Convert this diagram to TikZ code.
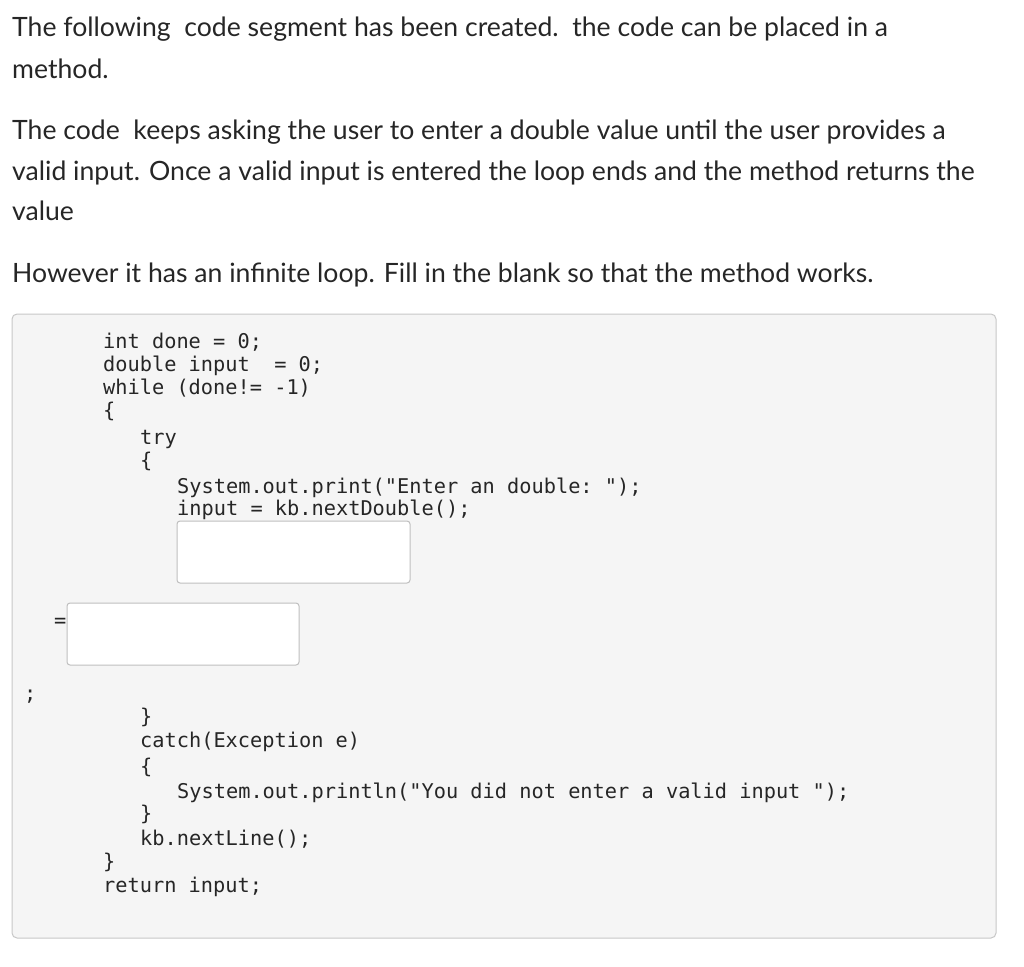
\documentclass[tikz,border=0pt]{standalone}
\usepackage{fontspec}
\setmainfont{Lato}
\setmonofont{DejaVu Sans Mono}
\begin{document}
\begin{tikzpicture}[x=1pt,y=-1pt,
 txt/.style={anchor=base west,inner sep=0pt,font=\fontsize{26.6}{30}\selectfont,text=black!85},
 code/.style={anchor=base west,inner sep=0pt,font=\ttfamily\fontsize{20.3}{23}\selectfont,text=black!85},
 blank/.style={draw=black!25,fill=white,rounded corners=3pt,line width=1pt}]
\useasboundingbox (0,0) rectangle (1024,966);
\node[txt] (t1) at (12,37) {The following\ \ code segment has been created.\ \ the code can be placed in a};
\node[txt] (t2) at (12,78) {method.};
\node[txt] (t3) at (12,139) {The code\ \ keeps asking the user to enter a double value until the user provides a};
\node[txt] (t4) at (12,180) {valid input. Once a valid input is entered the loop ends and the method returns the};
\node[txt] (t5) at (12,220) {value};
\node[txt] (t6) at (12,282) {However it has an infinite loop. Fill in the blank so that the method works.};
\draw[draw=black!22,fill=black!4,rounded corners=5pt,line width=1pt] (12,314) rectangle (996,938);
\node[code] (c1) at (103,348) {int done = 0;};
\node[code] (c2) at (103,371) {double input\ \ = 0;};
\node[code] (c3) at (103,394) {while (done!= -1)};
\node[code] (c4) at (103,417) {\{};
\node[code] (c5) at (140,444) {try};
\node[code] (c6) at (140,467) {\{};
\node[code] (c7) at (177,493) {System.out.print("Enter an double: ");};
\node[code] (c8) at (177,515) {input = kb.nextDouble();};
\draw[blank] (177,521) rectangle (410,583);
\node[code] (eq) at (54,627) {=};
\draw[blank] (67,603) rectangle (299,665);
\node[code] (sc) at (24,700) {;};
\node[code] (c9) at (140,723) {\}};
\node[code] (c10) at (140,747) {catch(Exception e)};
\node[code] (c11) at (140,773) {\{};
\node[code] (c12) at (177,798) {System.out.println("You did not enter a valid input ");};
\node[code] (c13) at (140,820) {\}};
\node[code] (c14) at (140,845) {kb.nextLine();};
\node[code] (c15) at (103,868) {\}};
\node[code] (c16) at (103,892) {return input;};
\end{tikzpicture}
\end{document}
